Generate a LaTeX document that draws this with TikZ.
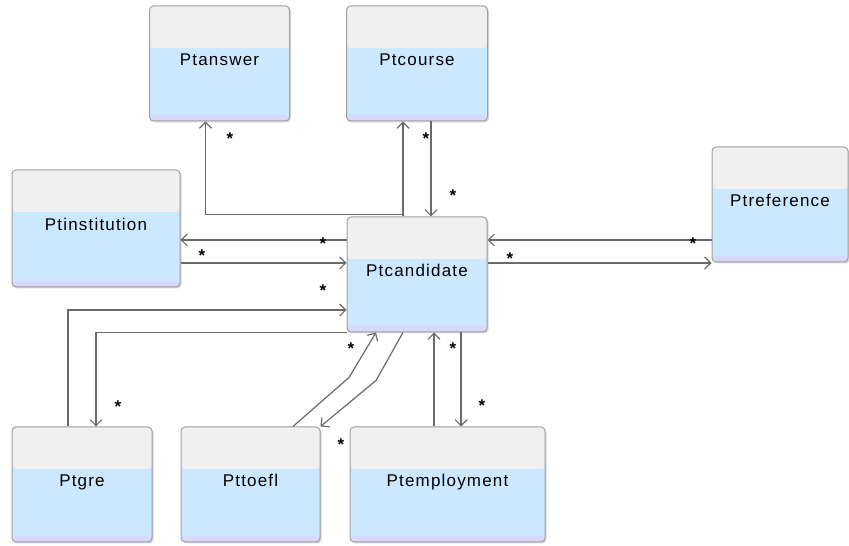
\documentclass[tikz,border=0pt]{standalone}
\usepackage{fontspec}
\setmainfont{Liberation Sans}
\newfontfamily\boxfont[LetterSpace=7]{Liberation Sans}
\usetikzlibrary{positioning,shadows,arrows.meta}

\definecolor{linegray}{HTML}{6A6A6A}
\definecolor{bordergray}{HTML}{A0A0A0}
\definecolor{headgray}{HTML}{F0F0F0}
\definecolor{bodyblue}{HTML}{CCE8FF}
\definecolor{footlav}{HTML}{D8D8FA}

\begin{document}
\begin{tikzpicture}[
    x=1pt, y=1pt,
    every node/.style={font=\boxfont\fontsize{17}{20}\selectfont},
    entity/.style={draw=bordergray, line width=1pt, rounded corners=4pt,
        minimum width=140pt, minimum height=115pt, inner sep=0pt,
        text height=12pt, text depth=8pt,
        drop shadow={shadow xshift=1.5pt, shadow yshift=-1.5pt, opacity=.3},
        path picture={
            \fill[bodyblue] (path picture bounding box.south west) rectangle (path picture bounding box.north east);
            \fill[headgray] ([yshift=-42pt]path picture bounding box.north west) rectangle (path picture bounding box.north east);
            \fill[footlav] (path picture bounding box.south west) rectangle ([yshift=6pt]path picture bounding box.south east);
        }},
    assoc/.style={draw=linegray, line width=1.2pt, -{Straight Barb[length=6pt,width=12pt]}},
    mult/.style={font=\bfseries\fontsize{17}{17}\selectfont, inner sep=0pt, anchor=base, yshift=-10pt}
]
\useasboundingbox (0,0) rectangle (849,546);

% classes
\node[entity] (cand) at (417,271.5) {Ptcandidate};
\node[entity, minimum width=141pt, above=95pt of cand] (course) {Ptcourse};
\node[entity, left=56pt of course] (ans) {Ptanswer};
\node[entity, minimum width=168pt, minimum height=117pt] (inst) at (96,317.5) {Ptinstitution};
\node[entity, minimum width=136pt] (ref) at (780,341.5) {Ptreference};
\node[entity] (gre) at (82,61.5) {Ptgre};
\node[entity, minimum width=139pt, right=28pt of gre] (toefl) {Pttoefl};
\node[entity, minimum width=195pt, right=29pt of toefl] (emp) {Ptemployment};

% associations, top
\draw[assoc] ([xshift=-14pt]cand.north) -- ++(0,2) -| ([xshift=-14pt]ans.south);
\draw[assoc] ([xshift=-14pt]cand.north) -- ([xshift=-14pt]cand.north |- course.south);
\draw[assoc] ([xshift=14pt]course.south) -- ([xshift=14pt]course.south |- cand.north);

% associations, left and right
\draw[assoc] ([yshift=34.5pt]cand.west) -- ([yshift=34.5pt]cand.west -| inst.east);
\draw[assoc] ([yshift=11.5pt]cand.west -| inst.east) -- ([yshift=11.5pt]cand.west);
\draw[assoc] ([yshift=34.5pt]cand.east -| ref.west) -- ([yshift=34.5pt]cand.east);
\draw[assoc] ([yshift=11.5pt]cand.east) -- ([yshift=11.5pt]cand.east -| ref.west);

% associations, bottom
\draw[assoc] ([xshift=-14pt]gre.north) |- ([yshift=-35.5pt]cand.west);
\draw[assoc] (cand.south west) -| ([xshift=14pt]gre.north);
\draw[assoc] ([xshift=42.5pt]toefl.north) -- ++(56,49) -- ([xshift=-41pt]cand.south);
\draw[assoc] ([xshift=-14pt]cand.south) -- ++(-27,-48) -- (toefl.north east);
\draw[assoc] ([xshift=-13.5pt]emp.north) -- ([xshift=-13.5pt]emp.north |- cand.south);
\draw[assoc] ([xshift=13.5pt]emp.north |- cand.south) -- ([xshift=13.5pt]emp.north);

% multiplicities
\node[mult] (m-ans) at (230,411) {*};
\node[mult] (m-course1) at (426,411) {*};
\node[mult] (m-course2) at (453,354) {*};
\node[mult] (m-inst1) at (323,306) {*};
\node[mult] (m-inst2) at (202,294) {*};
\node[mult] (m-ref1) at (693,306) {*};
\node[mult] (m-ref2) at (510,291) {*};
\node[mult] (m-gre1) at (323,259) {*};
\node[mult] (m-gre2) at (118,143) {*};
\node[mult] (m-toefl1) at (351,201) {*};
\node[mult] (m-toefl2) at (341,105) {*};
\node[mult] (m-emp1) at (453,201) {*};
\node[mult] (m-emp2) at (482,144) {*};

\end{tikzpicture}
\end{document}
